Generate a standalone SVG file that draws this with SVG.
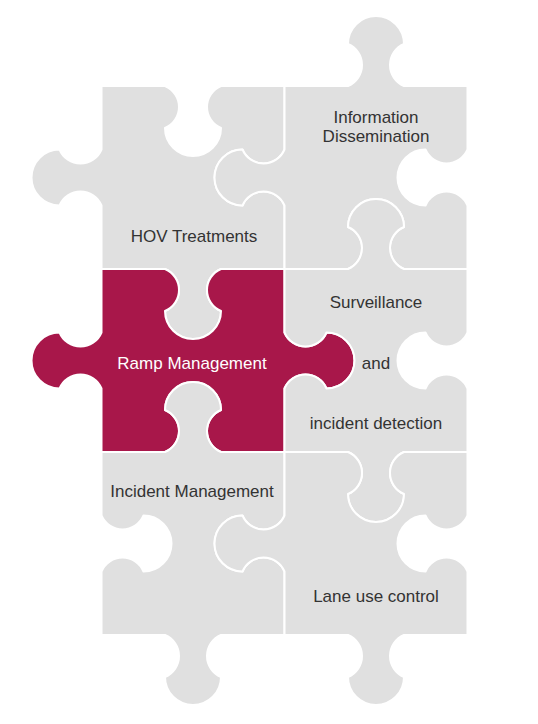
<svg xmlns="http://www.w3.org/2000/svg" width="538" height="724" viewBox="0 0 538 724">
<style>
.p{fill:#e0e0e0;stroke:#ffffff;stroke-width:2;stroke-linejoin:round}
.hl{fill:#a8174a}
.t{font-family:"Liberation Sans",Arial,sans-serif;font-size:17px;fill:#333333;text-anchor:middle}
.w{fill:#ffffff}
</style>
<rect width="538" height="724" fill="#ffffff"/>
<g id="hov">
<path class="p" d="M101.5 86 L165 86 A22.75 22.75 0 0 1 165 128 A28 28 0 1 0 221 128 A22.75 22.75 0 0 1 221 86 L284.5 86 L284.5 149.5 A22.75 22.75 0 0 1 242.5 149.5 A28 28 0 1 0 242.5 205.5 A22.75 22.75 0 0 1 284.5 205.5 L284.5 269 L221 269 A22.75 22.75 0 0 0 221 311 A28 28 0 1 1 165 311 A22.75 22.75 0 0 0 165 269 L101.5 269 L101.5 205.5 A22.75 22.75 0 0 0 59.5 205.5 A28 28 0 1 1 59.5 149.5 A22.75 22.75 0 0 0 101.5 149.5 Z"/>
<text class="t" x="194" y="242">HOV Treatments</text>
</g>
<g id="info">
<path class="p" d="M284.5 86 L348 86 A22.75 22.75 0 0 0 348 44 A28 28 0 1 1 404 44 A22.75 22.75 0 0 0 404 86 L467.5 86 L467.5 149.5 A22.75 22.75 0 0 1 425.5 149.5 A28 28 0 1 0 425.5 205.5 A22.75 22.75 0 0 1 467.5 205.5 L467.5 269 L404 269 A22.75 22.75 0 0 1 404 227 A28 28 0 1 0 348 227 A22.75 22.75 0 0 1 348 269 L284.5 269 L284.5 205.5 A22.75 22.75 0 0 0 242.5 205.5 A28 28 0 1 1 242.5 149.5 A22.75 22.75 0 0 0 284.5 149.5 Z"/>
<text class="t" x="376" y="123">Information</text>
<text class="t" x="376" y="142">Dissemination</text>
</g>
<g id="ramp">
<path class="p hl" d="M101.5 269 L165 269 A22.75 22.75 0 0 1 165 311 A28 28 0 1 0 221 311 A22.75 22.75 0 0 1 221 269 L284.5 269 L284.5 332.5 A22.75 22.75 0 0 0 326.5 332.5 A28 28 0 1 1 326.5 388.5 A22.75 22.75 0 0 0 284.5 388.5 L284.5 452 L221 452 A22.75 22.75 0 0 1 221 410 A28 28 0 1 0 165 410 A22.75 22.75 0 0 1 165 452 L101.5 452 L101.5 388.5 A22.75 22.75 0 0 0 59.5 388.5 A28 28 0 1 1 59.5 332.5 A22.75 22.75 0 0 0 101.5 332.5 Z"/>
<text class="t w" x="192" y="369">Ramp Management</text>
</g>
<g id="surveillance">
<path class="p" d="M284.5 269 L348 269 A22.75 22.75 0 0 0 348 227 A28 28 0 1 1 404 227 A22.75 22.75 0 0 0 404 269 L467.5 269 L467.5 332.5 A22.75 22.75 0 0 1 425.5 332.5 A28 28 0 1 0 425.5 388.5 A22.75 22.75 0 0 1 467.5 388.5 L467.5 452 L404 452 A22.75 22.75 0 0 0 404 494 A28 28 0 1 1 348 494 A22.75 22.75 0 0 0 348 452 L284.5 452 L284.5 388.5 A22.75 22.75 0 0 1 326.5 388.5 A28 28 0 1 0 326.5 332.5 A22.75 22.75 0 0 1 284.5 332.5 Z"/>
<text class="t" x="376" y="308">Surveillance</text>
<text class="t" x="376" y="369">and</text>
<text class="t" x="376" y="429">incident detection</text>
</g>
<g id="incident">
<path class="p" d="M101.5 452 L165 452 A22.75 22.75 0 0 0 165 410 A28 28 0 1 1 221 410 A22.75 22.75 0 0 0 221 452 L284.5 452 L284.5 515.5 A22.75 22.75 0 0 1 242.5 515.5 A28 28 0 1 0 242.5 571.5 A22.75 22.75 0 0 1 284.5 571.5 L284.5 635 L221 635 A22.75 22.75 0 0 0 221 677 A28 28 0 1 1 165 677 A22.75 22.75 0 0 0 165 635 L101.5 635 L101.5 571.5 A22.75 22.75 0 0 1 143.5 571.5 A28 28 0 1 0 143.5 515.5 A22.75 22.75 0 0 1 101.5 515.5 Z"/>
<text class="t" x="192" y="497">Incident Management</text>
</g>
<g id="lane">
<path class="p" d="M284.5 452 L348 452 A22.75 22.75 0 0 1 348 494 A28 28 0 1 0 404 494 A22.75 22.75 0 0 1 404 452 L467.5 452 L467.5 515.5 A22.75 22.75 0 0 1 425.5 515.5 A28 28 0 1 0 425.5 571.5 A22.75 22.75 0 0 1 467.5 571.5 L467.5 635 L404 635 A22.75 22.75 0 0 0 404 677 A28 28 0 1 1 348 677 A22.75 22.75 0 0 0 348 635 L284.5 635 L284.5 571.5 A22.75 22.75 0 0 0 242.5 571.5 A28 28 0 1 1 242.5 515.5 A22.75 22.75 0 0 0 284.5 515.5 Z"/>
<text class="t" x="376" y="602">Lane use control</text>
</g>
<g id="connectors"/>
</svg>
